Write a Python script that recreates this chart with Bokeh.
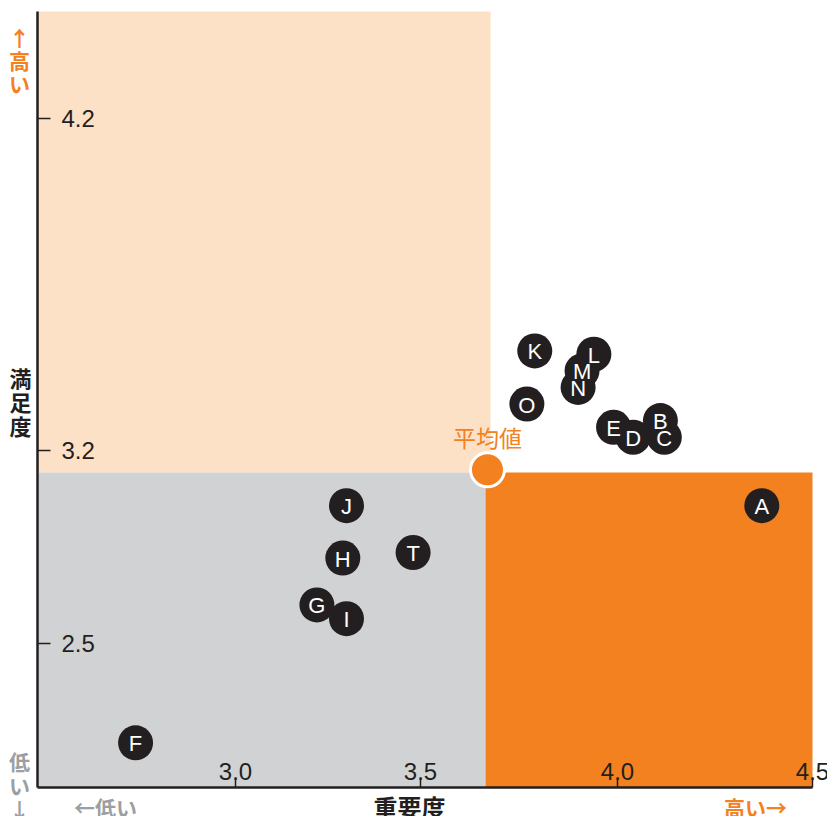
import numpy as np
from bokeh.plotting import figure
from bokeh.models import ColumnDataSource, Range1d
from bokeh.core.properties import value
from bokeh.embed import file_html
from bokeh.resources import INLINE

# ---------------- data ----------------
items = ["A", "B", "C", "D", "E", "F", "G", "H", "I", "J", "K", "L", "M", "N", "O", "T"]
importance = [4.37, 4.11, 4.12, 4.04, 3.99, 2.73, 3.22, 3.29, 3.30, 3.30, 3.79, 3.94, 3.91, 3.90, 3.77, 3.48]
satisfaction = [3.00, 3.29, 3.24, 3.24, 3.27, 2.14, 2.64, 2.81, 2.59, 3.00, 3.50, 3.49, 3.44, 3.39, 3.34, 2.83]

avg_importance = 3.67
avg_satisfaction = 3.13
avg_label = "平均値"

x_ticks = [3.0, 3.5, 4.0, 4.5]
x_tick_labels = ["3.0", "3.5", "4.0", "4.5"]
y_ticks = [2.5, 3.2, 4.2]
y_tick_labels = ["2.5", "3.2", "4.2"]

x_title = "重要度"
y_title = "満足度"
x_low, x_high = "←低い", "高い→"
y_high, y_low = "↑高い", "低い↓"

# quadrant boundaries (values)
quad_x_upper = 3.678   # right edge of upper-left area
quad_x_lower = 3.665   # split of lower areas
quad_y = 3.12

# the reference axes are piecewise linear: value anchors -> chart pixel offsets
X_VAL = [2.465, 3.0, 3.5, 4.0, 4.5]
X_POS = [0, 198, 383, 580, 775]
Y_VAL = [1.978, 2.5, 3.2, 4.2, 4.522]
Y_POS = [0, 144, 337, 669, 776]

def sx(v):
    return np.interp(v, X_VAL, X_POS)

def sy(v):
    return np.interp(v, Y_VAL, Y_POS)

BLACK = "#231f20"
ORANGE = "#f4811f"
PEACH = "#fde1c7"
GRAY = "#d1d2d4"
LGRAY = "#9c9ea1"
LATIN = value("Liberation Sans")
CJK = value("Noto Sans CJK JP")

W, H = 827, 816
OX, OY = 37, 787          # chart corner inside the canvas
p = figure(width=W, height=H, output_backend="svg", toolbar_location=None,
           x_axis_type=None, y_axis_type=None,
           x_range=Range1d(-OX, W - OX), y_range=Range1d(-(H - OY), OY),
           min_border=0)
p.outline_line_color = None
p.background_fill_color = "white"
p.border_fill_color = "white"
p.grid.visible = False

xmin, xmax = X_VAL[0], X_VAL[-1]
ymin, ymax = Y_VAL[0], Y_VAL[-1]

# quadrants
p.quad(left=[sx(xmin)], right=[sx(quad_x_upper)], bottom=[sy(quad_y)], top=[sy(ymax)],
       fill_color=PEACH, line_color=None)
p.quad(left=[sx(xmin)], right=[sx(quad_x_lower)], bottom=[sy(ymin)], top=[sy(quad_y)],
       fill_color=GRAY, line_color=None)
p.quad(left=[sx(quad_x_lower)], right=[sx(xmax)], bottom=[sy(ymin)], top=[sy(quad_y)],
       fill_color=ORANGE, line_color=None)

# axes: lines and inward ticks
x0, y0 = sx(xmin), sy(ymin)
p.segment(x0=[x0, x0], y0=[y0, y0], x1=[sx(xmax), x0], y1=[y0, sy(ymax)],
          line_color=BLACK, line_width=2.5)
xt = sx(x_ticks)
p.segment(x0=xt, y0=[y0] * len(xt), x1=xt, y1=[y0 + 10] * len(xt), line_color=BLACK, line_width=1.5)
yt = sy(y_ticks)
p.segment(x0=[x0] * len(yt), y0=yt, x1=[x0 + 13] * len(yt), y1=yt, line_color=BLACK, line_width=1.5)

p.text(x=xt, y=[y0 + 16] * len(xt), text=x_tick_labels, text_font=LATIN, text_font_size="24px",
       text_color=BLACK, text_align="center", text_baseline="alphabetic")
p.text(x=[x0 + 24] * len(yt), y=yt, text=y_tick_labels, text_font=LATIN, text_font_size="24px",
       text_color=BLACK, text_align="left", text_baseline="middle")

# average point
ax_, ay_ = sx(avg_importance), sy(avg_satisfaction)
p.scatter(x=[ax_], y=[ay_], size=34, fill_color=ORANGE, line_color="white", line_width=3)
p.text(x=[ax_], y=[ay_ + 33], text=[avg_label], text_font=CJK, text_font_size="23px",
       text_color=ORANGE, text_align="center", text_baseline="middle")

# items
src = ColumnDataSource(dict(x=sx(importance), y=sy(satisfaction), t=items))
p.scatter(x="x", y="y", source=src, size=35, fill_color=BLACK, line_color=None)
p.text(x="x", y="y", text="t", source=src, text_color="white", text_font=LATIN,
       text_font_size="22px", text_align="center", text_baseline="middle", y_offset=1)

# axis titles and direction hints (page-pixel placement relative to chart corner)
def lab(px, py, text, color, size, bold=True):
    p.text(x=[px - OX], y=[OY - py], text=[text], text_font=CJK, text_font_size=size,
           text_color=color, text_align="center", text_baseline="middle",
           text_font_style="bold" if bold else "normal")

for i, ch in enumerate(y_title):
    lab(20, 376 + 24 * i, ch, BLACK, "22px")
for i, ch in enumerate(y_high):
    lab(19, 36 + 23 * i, ch, ORANGE, "21px")
for i, ch in enumerate(y_low):
    lab(19, 760 + 24 * i, ch, LGRAY, "21px")
lab(409, 806, x_title, BLACK, "24px")
lab(105, 806, x_low, LGRAY, "21px")
lab(755, 806, x_high, ORANGE, "21px")

open("out.html", "w").write(file_html(p, INLINE))
